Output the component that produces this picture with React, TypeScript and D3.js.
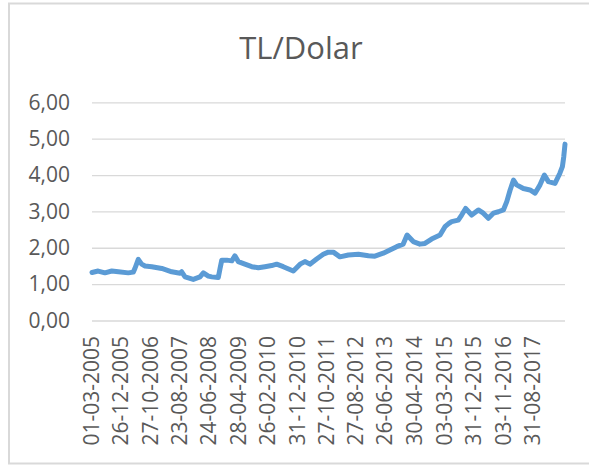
import * as d3 from 'd3'
import { useEffect, useRef } from 'react'

// USD/TRY readings (dd-mm-yyyy, same format as the axis labels)
const dates = [
  '01-03-2005', '04-05-2005', '13-07-2005', '22-09-2005', '30-11-2005',
  '12-03-2006', '03-05-2006', '20-05-2006', '24-06-2006', '29-07-2006',
  '02-09-2006', '11-11-2006', '23-02-2007', '06-06-2007', '01-09-2007',
  '17-09-2007', '22-10-2007', '15-01-2008', '25-03-2008', '29-04-2008',
  '20-06-2008', '25-07-2008', '01-10-2008', '19-10-2008', '06-11-2008',
  '28-12-2008', '18-02-2009', '22-03-2009', '26-04-2009', '04-07-2009',
  '13-09-2009', '20-11-2009', '28-01-2010', '07-04-2010', '29-05-2010',
  '06-08-2010', '18-11-2010', '27-01-2011', '18-03-2011', '09-05-2011',
  '18-07-2011', '25-09-2011', '16-11-2011', '07-01-2012', '16-03-2012',
  '11-06-2012', '23-09-2012', '05-01-2013', '13-03-2013', '08-06-2013',
  '16-08-2013', '25-10-2013', '31-12-2013', '10-02-2014', '15-04-2014',
  '23-06-2014', '14-08-2014', '22-10-2014', '18-01-2015', '10-03-2015',
  '20-04-2015', '18-05-2015', '26-07-2015', '30-08-2015', '10-10-2015',
  '12-12-2015', '19-02-2016', '11-04-2016', '02-06-2016', '24-07-2016',
  '14-09-2016', '05-11-2016', '10-12-2016', '14-01-2017', '18-02-2017',
  '22-03-2017', '31-05-2017', '08-08-2017', '29-09-2017', '20-11-2017',
  '04-01-2018', '15-02-2018', '24-04-2018', '14-06-2018', '10-07-2018',
  '24-07-2018', '06-08-2018'
]
const rates = [
  1.32, 1.36, 1.31, 1.36, 1.34,
  1.31, 1.33, 1.43, 1.68, 1.55,
  1.50, 1.48, 1.43, 1.34, 1.30,
  1.34, 1.20, 1.13, 1.20, 1.31,
  1.22, 1.20, 1.18, 1.43, 1.66,
  1.66, 1.64, 1.78, 1.62, 1.55,
  1.48, 1.45, 1.48, 1.51, 1.55,
  1.48, 1.36, 1.55, 1.62, 1.55,
  1.69, 1.82, 1.88, 1.88, 1.75,
  1.80, 1.82, 1.78, 1.77, 1.85,
  1.94, 2.03, 2.10, 2.35, 2.17,
  2.10, 2.12, 2.24, 2.35, 2.58,
  2.67, 2.72, 2.76, 2.90, 3.08,
  2.90, 3.04, 2.95, 2.81, 2.95,
  2.99, 3.04, 3.27, 3.59, 3.86,
  3.73, 3.63, 3.59, 3.50, 3.73,
  4.00, 3.82, 3.77, 4.05, 4.23,
  4.50, 4.85
]
const tickLabels = [
  '01-03-2005', '26-12-2005', '27-10-2006', '23-08-2007', '24-06-2008',
  '28-04-2009', '26-02-2010', '31-12-2010', '27-10-2011', '27-08-2012',
  '26-06-2013', '30-04-2014', '03-03-2015', '31-12-2015', '03-11-2016',
  '31-08-2017'
]
const yTicks = [0, 1, 2, 3, 4, 5, 6]
const title = 'TL/Dolar'

export default function App() {
  const ref = useRef<SVGSVGElement>(null)
  const width = 589
  const height = 467

  useEffect(() => {
    const parse = d3.timeParse('%d-%m-%Y')
    const data = dates.map((d, i) => ({ date: parse(d) as Date, value: rates[i] }))

    const xScale = d3.scaleTime()
      .domain([data[0].date, data[data.length - 1].date])
      .range([92, 565])
    const yScale = d3.scaleLinear()
      .domain([0, 6])
      .range([320.5, 102.3])

    const svg = d3.select(ref.current)
    svg.selectAll('*').remove()

    // chart area border
    svg.append('rect')
      .attr('x', 9)
      .attr('y', 3.5)
      .attr('width', 600)
      .attr('height', 460)
      .attr('fill', 'white')
      .attr('stroke', '#d9d9d9')
      .attr('stroke-width', 2)

    svg.append('text')
      .attr('x', 301)
      .attr('y', 59)
      .attr('text-anchor', 'middle')
      .attr('font-family', '"Open Sans", sans-serif')
      .attr('font-size', 31)
      .attr('fill', '#595959')
      .text(title)

    // gridlines + y labels
    const yAxis = d3.axisLeft(yScale)
      .tickValues(yTicks)
      .tickSize(-(565 - 92))
      .tickPadding(22)
      .tickFormat(d => (d as number).toFixed(2).replace('.', ','))
    const yG = svg.append('g')
      .attr('transform', 'translate(92,0)')
      .call(yAxis)
    yG.select('.domain').remove()
    yG.selectAll('line').attr('stroke', '#d9d9d9').attr('stroke-width', 1.3)
    yG.selectAll('text')
      .attr('font-family', '"Open Sans", sans-serif')
      .attr('font-size', 21)
      .attr('fill', '#595959')

    // x labels
    svg.append('g')
      .selectAll('text')
      .data(tickLabels)
      .join('text')
      .attr('transform', d => `translate(${xScale(parse(d) as Date)},336) rotate(-90)`)
      .attr('text-anchor', 'end')
      .attr('dy', '0.35em')
      .attr('font-family', '"Open Sans", sans-serif')
      .attr('font-size', 21)
      .attr('fill', '#595959')
      .text(d => d)

    const line = d3.line<{ date: Date, value: number }>()
      .x(d => xScale(d.date))
      .y(d => yScale(d.value))

    svg.append('path')
      .datum(data)
      .attr('fill', 'none')
      .attr('stroke', '#5b9bd5')
      .attr('stroke-width', 5)
      .attr('stroke-linejoin', 'round')
      .attr('stroke-linecap', 'round')
      .attr('d', line)
  }, [])

  return (
    <svg
      ref={ref}
      width={width}
      height={height}
      style={{ position: 'absolute', left: 0, top: 0, background: 'white' }}
    />
  )
}
